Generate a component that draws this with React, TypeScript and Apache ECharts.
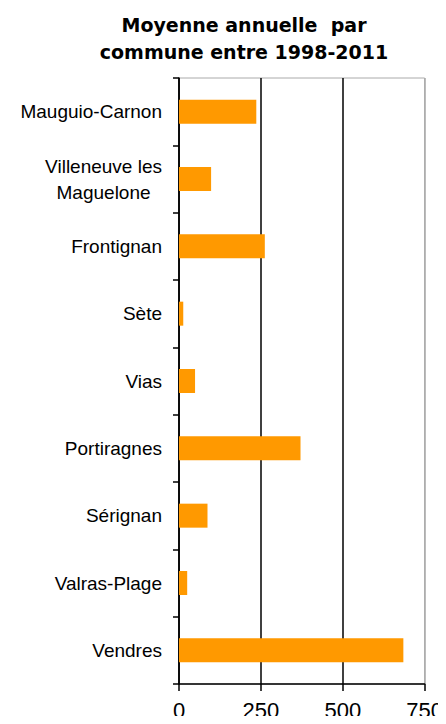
import React, { useEffect, useRef } from "react";
import * as echarts from "echarts";

const categories = [
  "Mauguio-Carnon",
  "Villeneuve les\nMaguelone",
  "Frontignan",
  "Sète",
  "Vias",
  "Portiragnes",
  "Sérignan",
  "Valras-Plage",
  "Vendres",
];
const values = [236, 98, 262, 13, 49, 371, 87, 25, 685];
const titleLines = ["Moyenne annuelle  par", "commune entre 1998-2011"];
const xTicks = [0, 250, 500, 750];

export default function App() {
  const ref = useRef<HTMLDivElement>(null);
  useEffect(() => {
    if (!ref.current) return;
    const chart = echarts.init(ref.current, undefined, { renderer: "svg" });
    chart.setOption({
      animation: false,
      backgroundColor: "#fff",
      graphic: [
        {
          type: "text",
          x: 244,
          y: 11,
          style: {
            text: titleLines.join("\n"),
            textAlign: "center",
            fontFamily: "DejaVu Sans",
            fontWeight: "bold",
            fontSize: 19,
            lineHeight: 27,
            fill: "#000",
          },
        },
      ],
      grid: {
        left: 179,
        right: 19,
        top: 78,
        bottom: 40,
        show: true,
        borderColor: "#aaaaaa",
        borderWidth: 1,
      },
      xAxis: {
        type: "value",
        min: xTicks[0],
        max: xTicks[xTicks.length - 1],
        interval: 250,
        axisLine: { show: true, lineStyle: { color: "#000", width: 1.5 } },
        axisTick: { show: true, length: 7, lineStyle: { color: "#000", width: 1.5 } },
        splitLine: {
          show: true,
          lineStyle: { color: ["#000", "#000", "#000", "#aaaaaa"], width: 1.5 },
        },
        axisLabel: {
          fontFamily: "Liberation Sans",
          fontSize: 22,
          color: "#000",
          margin: 15,
        },
      },
      yAxis: {
        type: "category",
        inverse: true,
        data: categories,
        axisLine: { show: true, lineStyle: { color: "#000", width: 1.5 } },
        axisTick: { show: true, length: 6, lineStyle: { color: "#000", width: 1.5 } },
        axisLabel: {
          color: "#000",
          fontFamily: "Liberation Sans",
          fontSize: 19,
          margin: 17,
          lineHeight: 26,
          formatter: (v: string) =>
            v.includes("\n")
              ? v
                  .split("\n")
                  .map((s) => `{c|${s}}`)
                  .join("\n")
              : v,
          rich: {
            c: {
              align: "center",
              fontFamily: "Liberation Sans",
              fontSize: 19,
              lineHeight: 26,
              color: "#000",
            },
          },
        },
      },
      series: [
        {
          type: "bar",
          data: values,
          barWidth: 24,
          itemStyle: { color: "#FF9900" },
        },
      ],
    });
    return () => chart.dispose();
  }, []);
  return <div ref={ref} style={{ width: 446, height: 724, margin: -8 }} />;
}
